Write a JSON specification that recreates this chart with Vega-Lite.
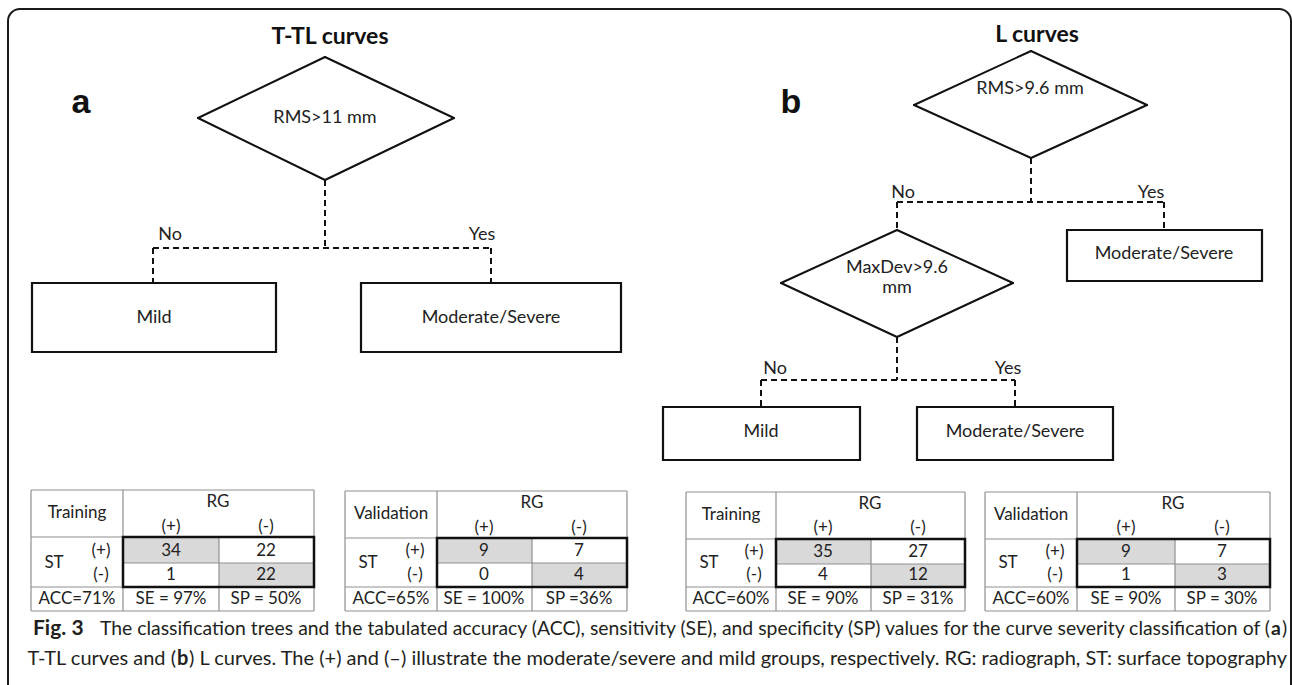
{
  "$schema": "https://vega.github.io/schema/vega-lite/v6.json",
  "width": 1292,
  "height": 685,
  "padding": 0,
  "autosize": {"type": "none"},
  "background": "white",
  "config": {"view": {"stroke": null}},
  "datasets": {
    "frame": [{"x": 8, "y": 9, "x2": 1291, "y2": 710}],
    "lines": [
      {"x": 325, "y": 57, "x2": 454, "y2": 118, "kind": "solid"},
      {"x": 454, "y": 118, "x2": 325, "y2": 180, "kind": "solid"},
      {"x": 325, "y": 180, "x2": 198, "y2": 118, "kind": "solid"},
      {"x": 198, "y": 118, "x2": 325, "y2": 57, "kind": "solid"},
      {"x": 1031, "y": 51, "x2": 1147, "y2": 105, "kind": "solid"},
      {"x": 1147, "y": 105, "x2": 1031, "y2": 158, "kind": "solid"},
      {"x": 1031, "y": 158, "x2": 914, "y2": 105, "kind": "solid"},
      {"x": 914, "y": 105, "x2": 1031, "y2": 51, "kind": "solid"},
      {"x": 897, "y": 230, "x2": 1013, "y2": 283, "kind": "solid"},
      {"x": 1013, "y": 283, "x2": 897, "y2": 337, "kind": "solid"},
      {"x": 897, "y": 337, "x2": 781, "y2": 283, "kind": "solid"},
      {"x": 781, "y": 283, "x2": 897, "y2": 230, "kind": "solid"},
      {"x": 325, "y": 180, "x2": 325, "y2": 248, "kind": "dashed"},
      {"x": 153, "y": 248, "x2": 491, "y2": 248, "kind": "dashed"},
      {"x": 153, "y": 248, "x2": 153, "y2": 283, "kind": "dashed"},
      {"x": 491, "y": 248, "x2": 491, "y2": 283, "kind": "dashed"},
      {"x": 1031, "y": 158, "x2": 1031, "y2": 202, "kind": "dashed"},
      {"x": 897, "y": 202, "x2": 1164, "y2": 202, "kind": "dashed"},
      {"x": 897, "y": 202, "x2": 897, "y2": 230, "kind": "dashed"},
      {"x": 1164, "y": 202, "x2": 1164, "y2": 230, "kind": "dashed"},
      {"x": 897, "y": 337, "x2": 897, "y2": 380, "kind": "dashed"},
      {"x": 761, "y": 380, "x2": 1015, "y2": 380, "kind": "dashed"},
      {"x": 761, "y": 380, "x2": 761, "y2": 407, "kind": "dashed"},
      {"x": 1015, "y": 380, "x2": 1015, "y2": 407, "kind": "dashed"},

      {"x": 31, "y": 490, "x2": 314, "y2": 490, "kind": "grid"},
      {"x": 31, "y": 537, "x2": 314, "y2": 537, "kind": "grid"},
      {"x": 123, "y": 563, "x2": 314, "y2": 563, "kind": "grid"},
      {"x": 31, "y": 587, "x2": 314, "y2": 587, "kind": "grid"},
      {"x": 31, "y": 611, "x2": 314, "y2": 611, "kind": "grid"},
      {"x": 31, "y": 490, "x2": 31, "y2": 611, "kind": "grid"},
      {"x": 123, "y": 490, "x2": 123, "y2": 611, "kind": "grid"},
      {"x": 219, "y": 537, "x2": 219, "y2": 611, "kind": "grid"},
      {"x": 314, "y": 490, "x2": 314, "y2": 611, "kind": "grid"},

      {"x": 345, "y": 491, "x2": 627, "y2": 491, "kind": "grid"},
      {"x": 345, "y": 538, "x2": 627, "y2": 538, "kind": "grid"},
      {"x": 437, "y": 563, "x2": 627, "y2": 563, "kind": "grid"},
      {"x": 345, "y": 587, "x2": 627, "y2": 587, "kind": "grid"},
      {"x": 345, "y": 611, "x2": 627, "y2": 611, "kind": "grid"},
      {"x": 345, "y": 491, "x2": 345, "y2": 611, "kind": "grid"},
      {"x": 437, "y": 491, "x2": 437, "y2": 611, "kind": "grid"},
      {"x": 532, "y": 538, "x2": 532, "y2": 611, "kind": "grid"},
      {"x": 627, "y": 491, "x2": 627, "y2": 611, "kind": "grid"},

      {"x": 686, "y": 492, "x2": 965, "y2": 492, "kind": "grid"},
      {"x": 686, "y": 539, "x2": 965, "y2": 539, "kind": "grid"},
      {"x": 776, "y": 564, "x2": 965, "y2": 564, "kind": "grid"},
      {"x": 686, "y": 587, "x2": 965, "y2": 587, "kind": "grid"},
      {"x": 686, "y": 611, "x2": 965, "y2": 611, "kind": "grid"},
      {"x": 686, "y": 492, "x2": 686, "y2": 611, "kind": "grid"},
      {"x": 776, "y": 492, "x2": 776, "y2": 611, "kind": "grid"},
      {"x": 871, "y": 539, "x2": 871, "y2": 611, "kind": "grid"},
      {"x": 965, "y": 492, "x2": 965, "y2": 611, "kind": "grid"},

      {"x": 985, "y": 492, "x2": 1270, "y2": 492, "kind": "grid"},
      {"x": 985, "y": 539, "x2": 1270, "y2": 539, "kind": "grid"},
      {"x": 1077, "y": 564, "x2": 1270, "y2": 564, "kind": "grid"},
      {"x": 985, "y": 587, "x2": 1270, "y2": 587, "kind": "grid"},
      {"x": 985, "y": 611, "x2": 1270, "y2": 611, "kind": "grid"},
      {"x": 985, "y": 492, "x2": 985, "y2": 611, "kind": "grid"},
      {"x": 1077, "y": 492, "x2": 1077, "y2": 611, "kind": "grid"},
      {"x": 1175, "y": 539, "x2": 1175, "y2": 611, "kind": "grid"},
      {"x": 1270, "y": 492, "x2": 1270, "y2": 611, "kind": "grid"}
    ],
    "boxes": [
      {"x": 32, "y": 283, "x2": 276, "y2": 352},
      {"x": 361, "y": 283, "x2": 621, "y2": 352},
      {"x": 1067, "y": 230, "x2": 1262, "y2": 281},
      {"x": 663, "y": 407, "x2": 860, "y2": 460},
      {"x": 917, "y": 407, "x2": 1113, "y2": 460}
    ],
    "thick": [
      {"x": 123, "y": 537, "x2": 314, "y2": 587},
      {"x": 437, "y": 538, "x2": 627, "y2": 587},
      {"x": 776, "y": 539, "x2": 965, "y2": 587},
      {"x": 1077, "y": 539, "x2": 1270, "y2": 587}
    ],
    "cells": [
      {"x": 123, "y": 537, "x2": 219, "y2": 563},
      {"x": 219, "y": 563, "x2": 314, "y2": 587},
      {"x": 437, "y": 538, "x2": 532, "y2": 563},
      {"x": 532, "y": 563, "x2": 627, "y2": 587},
      {"x": 776, "y": 539, "x2": 871, "y2": 564},
      {"x": 871, "y": 564, "x2": 965, "y2": 587},
      {"x": 1077, "y": 539, "x2": 1175, "y2": 564},
      {"x": 1175, "y": 564, "x2": 1270, "y2": 587}
    ],
    "texts": [
      {"x": 330, "y": 37, "label": "T-TL curves", "style": "title"},
      {"x": 1037, "y": 35, "label": "L curves", "style": "title"},
      {"x": 81, "y": 113, "label": "a", "style": "panel"},
      {"x": 791, "y": 113, "label": "b", "style": "panel"},
      {"x": 325, "y": 118, "label": "RMS>11 mm", "style": "node"},
      {"x": 1030, "y": 89, "label": "RMS>9.6 mm", "style": "node"},
      {"x": 897, "y": 268, "label": "MaxDev>9.6", "style": "node"},
      {"x": 897, "y": 288, "label": "mm", "style": "node"},
      {"x": 154, "y": 318, "label": "Mild", "style": "node"},
      {"x": 491, "y": 318, "label": "Moderate/Severe", "style": "node"},
      {"x": 1164, "y": 254, "label": "Moderate/Severe", "style": "node"},
      {"x": 761, "y": 432, "label": "Mild", "style": "node"},
      {"x": 1015, "y": 432, "label": "Moderate/Severe", "style": "node"},
      {"x": 170, "y": 235, "label": "No", "style": "node"},
      {"x": 482, "y": 235, "label": "Yes", "style": "node"},
      {"x": 903, "y": 193, "label": "No", "style": "node"},
      {"x": 1151, "y": 193, "label": "Yes", "style": "node"},
      {"x": 775, "y": 369, "label": "No", "style": "node"},
      {"x": 1008, "y": 369, "label": "Yes", "style": "node"},

      {"x": 77, "y": 513, "label": "Training", "style": "table"},
      {"x": 218, "y": 502, "label": "RG", "style": "table"},
      {"x": 171, "y": 527, "label": "(+)", "style": "table"},
      {"x": 266, "y": 527, "label": "(-)", "style": "table"},
      {"x": 54, "y": 563, "label": "ST", "style": "table"},
      {"x": 101, "y": 551, "label": "(+)", "style": "table"},
      {"x": 101, "y": 575, "label": "(-)", "style": "table"},
      {"x": 171, "y": 551, "label": "34", "style": "table"},
      {"x": 266, "y": 551, "label": "22", "style": "table"},
      {"x": 171, "y": 575, "label": "1", "style": "table"},
      {"x": 266, "y": 575, "label": "22", "style": "table"},
      {"x": 77, "y": 599, "label": "ACC=71%", "style": "table"},
      {"x": 171, "y": 599, "label": "SE = 97%", "style": "table"},
      {"x": 266, "y": 599, "label": "SP = 50%", "style": "table"},

      {"x": 391, "y": 514, "label": "Validation", "style": "table"},
      {"x": 532, "y": 503, "label": "RG", "style": "table"},
      {"x": 484, "y": 528, "label": "(+)", "style": "table"},
      {"x": 579, "y": 528, "label": "(-)", "style": "table"},
      {"x": 368, "y": 563, "label": "ST", "style": "table"},
      {"x": 415, "y": 551, "label": "(+)", "style": "table"},
      {"x": 415, "y": 575, "label": "(-)", "style": "table"},
      {"x": 484, "y": 551, "label": "9", "style": "table"},
      {"x": 579, "y": 551, "label": "7", "style": "table"},
      {"x": 484, "y": 575, "label": "0", "style": "table"},
      {"x": 579, "y": 575, "label": "4", "style": "table"},
      {"x": 391, "y": 599, "label": "ACC=65%", "style": "table"},
      {"x": 484, "y": 599, "label": "SE = 100%", "style": "table"},
      {"x": 579, "y": 599, "label": "SP =36%", "style": "table"},

      {"x": 731, "y": 515, "label": "Training", "style": "table"},
      {"x": 870, "y": 504, "label": "RG", "style": "table"},
      {"x": 823, "y": 528, "label": "(+)", "style": "table"},
      {"x": 918, "y": 528, "label": "(-)", "style": "table"},
      {"x": 709, "y": 563, "label": "ST", "style": "table"},
      {"x": 754, "y": 552, "label": "(+)", "style": "table"},
      {"x": 754, "y": 575, "label": "(-)", "style": "table"},
      {"x": 823, "y": 552, "label": "35", "style": "table"},
      {"x": 918, "y": 552, "label": "27", "style": "table"},
      {"x": 823, "y": 575, "label": "4", "style": "table"},
      {"x": 918, "y": 575, "label": "12", "style": "table"},
      {"x": 731, "y": 599, "label": "ACC=60%", "style": "table"},
      {"x": 823, "y": 599, "label": "SE = 90%", "style": "table"},
      {"x": 918, "y": 599, "label": "SP = 31%", "style": "table"},

      {"x": 1031, "y": 515, "label": "Validation", "style": "table"},
      {"x": 1173, "y": 504, "label": "RG", "style": "table"},
      {"x": 1126, "y": 528, "label": "(+)", "style": "table"},
      {"x": 1222, "y": 528, "label": "(-)", "style": "table"},
      {"x": 1008, "y": 563, "label": "ST", "style": "table"},
      {"x": 1055, "y": 552, "label": "(+)", "style": "table"},
      {"x": 1055, "y": 575, "label": "(-)", "style": "table"},
      {"x": 1126, "y": 552, "label": "9", "style": "table"},
      {"x": 1222, "y": 552, "label": "7", "style": "table"},
      {"x": 1126, "y": 575, "label": "1", "style": "table"},
      {"x": 1222, "y": 575, "label": "3", "style": "table"},
      {"x": 1031, "y": 599, "label": "ACC=60%", "style": "table"},
      {"x": 1126, "y": 599, "label": "SE = 90%", "style": "table"},
      {"x": 1222, "y": 599, "label": "SP = 30%", "style": "table"},

      {"x": 33, "y": 629, "label": "Fig. 3", "style": "figBold"},
      {"x": 1270, "y": 629, "label": "The classification trees and the tabulated accuracy (ACC), sensitivity (SE), and specificity (SP) values for the curve severity classification of (", "style": "cap1R"},
      {"x": 1271, "y": 629, "label": "a", "style": "cap1Bold"},
      {"x": 1282, "y": 629, "label": ")", "style": "cap1L"},
      {"x": 176, "y": 659, "label": "T-TL curves and (", "style": "cap2R"},
      {"x": 177, "y": 659, "label": "b", "style": "cap2Bold"},
      {"x": 189, "y": 659, "label": ") L curves. The (+) and (–) illustrate the moderate/severe and mild groups, respectively. RG: radiograph, ST: surface topography", "style": "cap2L"}
    ]
  },
  "layer": [
    {
      "data": {"name": "frame"},
      "mark": {"type": "rect", "fill": null, "stroke": "#1a1a1a", "strokeWidth": 2, "cornerRadius": 12},
      "encoding": {
        "x": {"field": "x", "type": "quantitative", "scale": {"domain": [0, 1292], "nice": false, "zero": false}, "axis": null},
        "x2": {"field": "x2"},
        "y": {"field": "y", "type": "quantitative", "scale": {"domain": [0, 685], "nice": false, "zero": false, "reverse": true}, "axis": null},
        "y2": {"field": "y2"}
      }
    },
    {
      "data": {"name": "cells"},
      "mark": {"type": "rect", "fill": "#d9d9d9", "stroke": null},
      "encoding": {
        "x": {"field": "x", "type": "quantitative", "axis": null},
        "x2": {"field": "x2"},
        "y": {"field": "y", "type": "quantitative", "axis": null},
        "y2": {"field": "y2"}
      }
    },
    {
      "data": {"name": "lines"},
      "transform": [{"filter": "datum.kind === 'grid'"}],
      "mark": {"type": "rule", "stroke": "#8f8f8f", "strokeWidth": 1.2},
      "encoding": {
        "x": {"field": "x", "type": "quantitative", "axis": null},
        "x2": {"field": "x2"},
        "y": {"field": "y", "type": "quantitative", "axis": null},
        "y2": {"field": "y2"}
      }
    },
    {
      "data": {"name": "thick"},
      "mark": {"type": "rect", "fill": null, "stroke": "#111111", "strokeWidth": 2.5},
      "encoding": {
        "x": {"field": "x", "type": "quantitative", "axis": null},
        "x2": {"field": "x2"},
        "y": {"field": "y", "type": "quantitative", "axis": null},
        "y2": {"field": "y2"}
      }
    },
    {
      "data": {"name": "boxes"},
      "mark": {"type": "rect", "fill": null, "stroke": "#111111", "strokeWidth": 2.2},
      "encoding": {
        "x": {"field": "x", "type": "quantitative", "axis": null},
        "x2": {"field": "x2"},
        "y": {"field": "y", "type": "quantitative", "axis": null},
        "y2": {"field": "y2"}
      }
    },
    {
      "data": {"name": "lines"},
      "transform": [{"filter": "datum.kind === 'solid'"}],
      "mark": {"type": "rule", "stroke": "#111111", "strokeWidth": 2, "strokeCap": "round"},
      "encoding": {
        "x": {"field": "x", "type": "quantitative", "axis": null},
        "x2": {"field": "x2"},
        "y": {"field": "y", "type": "quantitative", "axis": null},
        "y2": {"field": "y2"}
      }
    },
    {
      "data": {"name": "lines"},
      "transform": [{"filter": "datum.kind === 'dashed'"}],
      "mark": {"type": "rule", "stroke": "#111111", "strokeWidth": 2, "strokeDash": [6, 4]},
      "encoding": {
        "x": {"field": "x", "type": "quantitative", "axis": null},
        "x2": {"field": "x2"},
        "y": {"field": "y", "type": "quantitative", "axis": null},
        "y2": {"field": "y2"}
      }
    },
    {
      "data": {"name": "texts"},
      "transform": [{"filter": "datum.style === 'title'"}],
      "mark": {"type": "text", "font": "Lato", "fontWeight": "bold", "fontSize": 23, "align": "center", "baseline": "middle", "color": "#111111"},
      "encoding": {
        "x": {"field": "x", "type": "quantitative", "axis": null},
        "y": {"field": "y", "type": "quantitative", "axis": null},
        "text": {"field": "label"}
      }
    },
    {
      "data": {"name": "texts"},
      "transform": [{"filter": "datum.style === 'panel'"}],
      "mark": {"type": "text", "font": "Liberation Sans", "fontWeight": "bold", "fontSize": 34, "align": "center", "baseline": "alphabetic", "color": "#111111"},
      "encoding": {
        "x": {"field": "x", "type": "quantitative", "axis": null},
        "y": {"field": "y", "type": "quantitative", "axis": null},
        "text": {"field": "label"}
      }
    },
    {
      "data": {"name": "texts"},
      "transform": [{"filter": "datum.style === 'node'"}],
      "mark": {"type": "text", "font": "Lato", "fontSize": 18, "align": "center", "baseline": "middle", "color": "#222222"},
      "encoding": {
        "x": {"field": "x", "type": "quantitative", "axis": null},
        "y": {"field": "y", "type": "quantitative", "axis": null},
        "text": {"field": "label"}
      }
    },
    {
      "data": {"name": "texts"},
      "transform": [{"filter": "datum.style === 'table'"}],
      "mark": {"type": "text", "font": "Lato", "fontSize": 17, "align": "center", "baseline": "middle", "color": "#222222"},
      "encoding": {
        "x": {"field": "x", "type": "quantitative", "axis": null},
        "y": {"field": "y", "type": "quantitative", "axis": null},
        "text": {"field": "label"}
      }
    },
    {
      "data": {"name": "texts"},
      "transform": [{"filter": "datum.style === 'figBold'"}],
      "mark": {"type": "text", "font": "Lato", "fontWeight": "bold", "fontSize": 21, "align": "left", "baseline": "middle", "color": "#231f20"},
      "encoding": {
        "x": {"field": "x", "type": "quantitative", "axis": null},
        "y": {"field": "y", "type": "quantitative", "axis": null},
        "text": {"field": "label"}
      }
    },
    {
      "data": {"name": "texts"},
      "transform": [{"filter": "datum.style === 'cap1R'"}],
      "mark": {"type": "text", "font": "Lato", "fontSize": 19.4, "align": "right", "baseline": "middle", "color": "#231f20"},
      "encoding": {
        "x": {"field": "x", "type": "quantitative", "axis": null},
        "y": {"field": "y", "type": "quantitative", "axis": null},
        "text": {"field": "label"}
      }
    },
    {
      "data": {"name": "texts"},
      "transform": [{"filter": "datum.style === 'cap1Bold'"}],
      "mark": {"type": "text", "font": "Lato", "fontWeight": "bold", "fontSize": 19.4, "align": "left", "baseline": "middle", "color": "#231f20"},
      "encoding": {
        "x": {"field": "x", "type": "quantitative", "axis": null},
        "y": {"field": "y", "type": "quantitative", "axis": null},
        "text": {"field": "label"}
      }
    },
    {
      "data": {"name": "texts"},
      "transform": [{"filter": "datum.style === 'cap1L'"}],
      "mark": {"type": "text", "font": "Lato", "fontSize": 19.4, "align": "left", "baseline": "middle", "color": "#231f20"},
      "encoding": {
        "x": {"field": "x", "type": "quantitative", "axis": null},
        "y": {"field": "y", "type": "quantitative", "axis": null},
        "text": {"field": "label"}
      }
    },
    {
      "data": {"name": "texts"},
      "transform": [{"filter": "datum.style === 'cap2R'"}],
      "mark": {"type": "text", "font": "Lato", "fontSize": 20, "align": "right", "baseline": "middle", "color": "#231f20"},
      "encoding": {
        "x": {"field": "x", "type": "quantitative", "axis": null},
        "y": {"field": "y", "type": "quantitative", "axis": null},
        "text": {"field": "label"}
      }
    },
    {
      "data": {"name": "texts"},
      "transform": [{"filter": "datum.style === 'cap2Bold'"}],
      "mark": {"type": "text", "font": "Lato", "fontWeight": "bold", "fontSize": 20, "align": "left", "baseline": "middle", "color": "#231f20"},
      "encoding": {
        "x": {"field": "x", "type": "quantitative", "axis": null},
        "y": {"field": "y", "type": "quantitative", "axis": null},
        "text": {"field": "label"}
      }
    },
    {
      "data": {"name": "texts"},
      "transform": [{"filter": "datum.style === 'cap2L'"}],
      "mark": {"type": "text", "font": "Lato", "fontSize": 20, "align": "left", "baseline": "middle", "color": "#231f20"},
      "encoding": {
        "x": {"field": "x", "type": "quantitative", "axis": null},
        "y": {"field": "y", "type": "quantitative", "axis": null},
        "text": {"field": "label"}
      }
    }
  ]
}
